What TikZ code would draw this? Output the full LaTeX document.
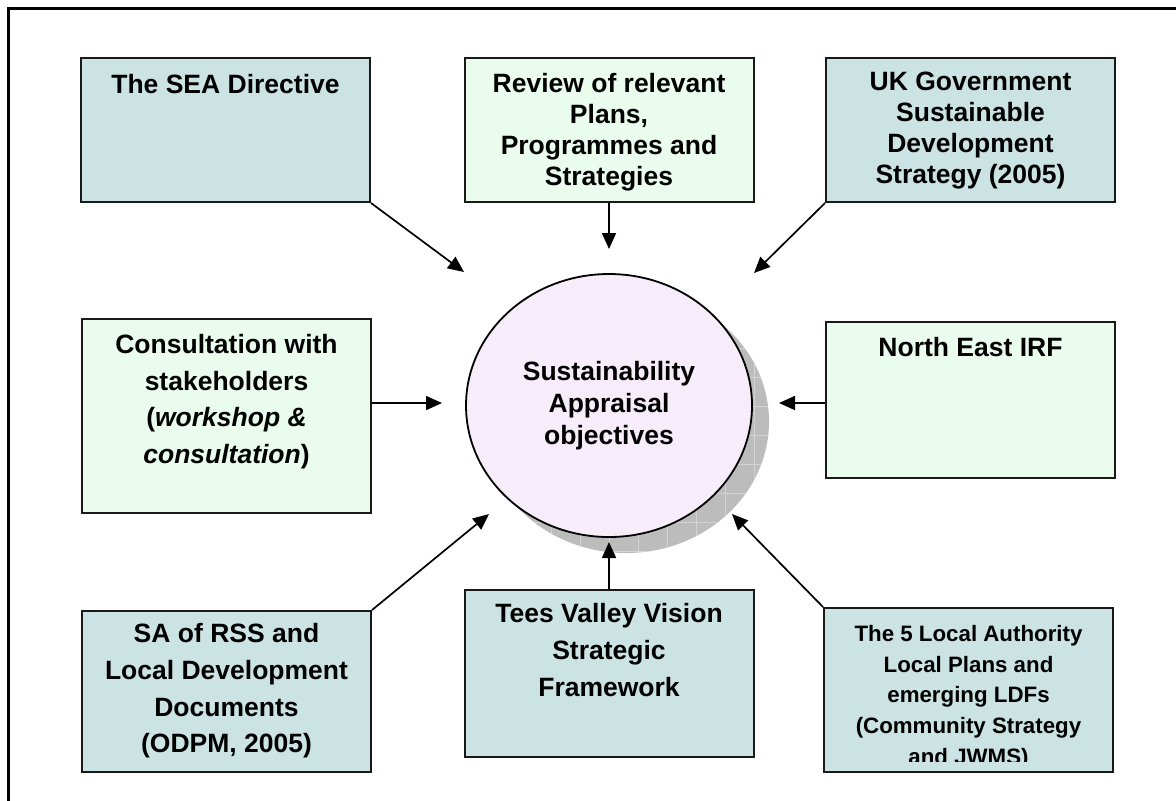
\documentclass[tikz,border=0pt]{standalone}
\usepackage{fontspec}
\setmainfont{Liberation Sans}
\usetikzlibrary{positioning,arrows.meta,shapes.geometric}
\definecolor{srcblue}{RGB}{204,227,227}
\definecolor{srcgreen}{RGB}{234,252,238}
\definecolor{objpink}{RGB}{246,236,250}
\definecolor{shadegray}{RGB}{188,188,188}
\tikzset{
  src/.style={draw=black!90,line width=1pt,minimum width=144.5pt,inner sep=0pt,on grid},
  srcb/.style={src,fill=srcblue},
  srcg/.style={src,fill=srcgreen},
  srctext/.style={align=center,inner sep=0pt,font=\fontsize{13.25}{15.5}\selectfont\bfseries},
  widetext/.style={srctext,font=\fontsize{13.25}{18.35}\selectfont\bfseries},
  feed/.style={-{Triangle[length=8pt,width=7pt]},line width=0.85pt},
}

\begin{document}
\begin{tikzpicture}[x=0.5pt,y=-0.5pt]
  \useasboundingbox (0,0) rectangle (1176,800);
  % page frame
  \draw[line width=1.5pt] (1200,8) -- (8,8) -- (8,820);
  % shadow of the oval
  \fill[shadegray] (626,421.5) ellipse [x radius=71.5pt,y radius=65.75pt];
  \begin{scope}
    \clip (626,421.5) ellipse [x radius=71.5pt,y radius=65.75pt];
    \draw[white!35!shadegray,line width=0.4pt,step=14.5pt] (460,260) grid (800,580);
  \end{scope}
  \node[ellipse,draw,line width=0.9pt,fill=objpink,minimum width=143pt,minimum height=131.5pt,
        align=center,inner sep=0pt,font=\fontsize{13.25}{15.85}\selectfont\bfseries]
        (OBJ) at (609,405.5) {Sustainability\\Appraisal\\objectives};

  \node[srcb,minimum height=72pt] (SEA) [above left=137.75pt and 191.75pt of OBJ] {};
  \node[srcg,minimum height=72pt] (PPS) [above=137.75pt of OBJ] {};
  \node[srcb,minimum height=72pt] (UKS) [above right=137.75pt and 180.75pt of OBJ] {};
  \node[srcg,minimum height=97pt] (CON) [below left=5.25pt and 191.25pt of OBJ] {};
  \node[srcg,minimum height=78pt] (NE) [above right=2.75pt and 180.75pt of OBJ] {};
  \node[srcb,minimum height=80.5pt] (SA) [below left=143pt and 191.25pt of OBJ] {};
  \node[srcb,minimum height=83.5pt] (TVV) [below=134pt of OBJ] {};
  \node[srcb,minimum height=82pt] (LA) [below right=142.25pt and 179.75pt of OBJ] {};

  \node[srctext] (SEAt) [below=8.3pt of SEA.north] {The SEA Directive};
  \node[srctext] (PPSt) [below=7.8pt of PPS.north] {Review of relevant\\Plans,\\Programmes and\\Strategies};
  \node[srctext] (UKSt) [below=7.4pt of UKS.north] {UK Government\\Sustainable\\Development\\Strategy (2005)};
  \node[widetext] (CONt) [below=7.9pt of CON.north] {Consultation with\\stakeholders\\(\textit{workshop \&}\\\textit{consultation})};
  \node[srctext] (NEt) [below=7.9pt of NE.north] {North East IRF};
  \node[widetext] (SAt) [below=6.6pt of SA.north] {SA of RSS and\\Local Development\\Documents\\(ODPM, 2005)};
  \node[widetext] (TVVt) [below=7pt of TVV.north] {Tees Valley Vision\\Strategic\\Framework};
  \begin{scope}
    \clip (LA.north west) rectangle ([yshift=6pt]LA.south east);
    \node[srctext,font=\fontsize{11.15}{15.4}\selectfont\bfseries] (LAt) [below=8.9pt of LA.north]
      {The 5 Local Authority\\Local Plans and\\emerging LDFs\\(Community Strategy\\and JWMS)};
  \end{scope}

  % arrow tips, short of the oval
  \coordinate (t1) at (464,272);
  \coordinate (t2) at (609,249);
  \coordinate (t3) at (754,273);
  \coordinate (t4) at (442,403);
  \coordinate (t5) at (779,403);
  \coordinate (t6) at (489,514);
  \coordinate (t7) at (609,542);
  \coordinate (t8) at (732,514);

  \draw[feed] (SEA.south east) -- (t1);
  \draw[feed] (PPS.south) -- (t2);
  \draw[feed] (UKS.south west) -- (t3);
  \draw[feed] (CON.east |- t4) -- (t4);
  \draw[feed] (NE.west |- t5) -- (t5);
  \draw[feed] (SA.north east) -- (t6);
  \draw[feed] (TVV.north) -- (t7);
  \draw[feed] (LA.north west) -- (t8);
\end{tikzpicture}
\end{document}
